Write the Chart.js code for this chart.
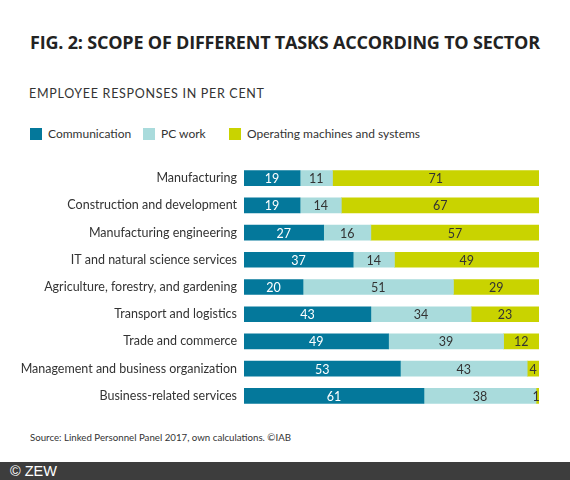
<!DOCTYPE html>
<html>
<head>
<meta charset="utf-8">
<script src="https://cdn.jsdelivr.net/npm/chart.js@4/dist/chart.umd.min.js"></script>
<style>
  html, body { margin:0; padding:0; background:#fff; }
  body { width:570px; height:480px; position:relative; overflow:hidden; font-family:Lato, sans-serif; color:#333; }
  .title { position:absolute; left:30px; top:30px; font-size:18px; font-weight:700; color:#222; white-space:nowrap; letter-spacing:-0.2px; font-family:"Open Sans", sans-serif; }
  .sub { position:absolute; left:29px; top:86px; font-size:12.5px; letter-spacing:0.7px; color:#333; white-space:nowrap; }
  .legend { position:absolute; left:30px; top:126px; font-size:12px; color:#333; white-space:nowrap; }
  .legend span.it { position:absolute; top:0; display:inline-flex; align-items:center; }
  .legend i { display:inline-block; width:12px; height:12px; margin-right:6px; }
  .src { position:absolute; left:30px; top:431px; font-size:9.7px; color:#333; white-space:nowrap; }
  .foot { position:absolute; left:0; top:462px; width:570px; height:18px; background:#3d3d3d; color:#fff; font-size:14.5px; line-height:18px; font-family:"Liberation Sans", Arial, sans-serif; }
  .foot span { margin-left:10px; }
  #wrap { position:absolute; left:0; top:150px; width:570px; height:274px; }
</style>
</head>
<body>
<div class="title">FIG. 2: SCOPE OF DIFFERENT TASKS ACCORDING TO SECTOR</div>
<div class="sub">EMPLOYEE RESPONSES IN PER CENT</div>
<div class="legend" id="legend"></div>
<div id="wrap"><canvas id="chart" width="570" height="274"></canvas></div>
<div class="src">Source: Linked Personnel Panel 2017, own calculations. ©IAB</div>
<div class="foot"><span>© ZEW</span></div>
<script>
'use strict';

const sectors = [
  'Manufacturing',
  'Construction and development',
  'Manufacturing engineering',
  'IT and natural science services',
  'Agriculture, forestry, and gardening',
  'Transport and logistics',
  'Trade and commerce',
  'Management and business organization',
  'Business-related services'
];
const communication = [19, 19, 27, 37, 20, 43, 49, 53, 61];
const pcWork        = [11, 14, 16, 14, 51, 34, 39, 43, 38];
const machines      = [71, 67, 57, 49, 29, 23, 12, 4, 1];

const seriesNames  = ['Communication', 'PC work', 'Operating machines and systems'];
const seriesColors = ['#04789b', '#a9dbdc', '#c9d300'];
const labelColors  = ['#ffffff', '#333333', '#333333'];
const legendX      = [0, 113, 199];

// legend
document.getElementById('legend').innerHTML = seriesNames.map((n, i) =>
  `<span class="it" style="left:${legendX[i]}px"><i style="background:${seriesColors[i]}"></i>${n}</span>`).join('');

// Zahlen in die Balken schreiben
const valueLabels = {
  id: 'valueLabels',
  afterDatasetsDraw(chart) {
    const ctx = chart.ctx;
    const area = chart.chartArea;
    ctx.save();
    ctx.font = '12.5px Lato, sans-serif';
    ctx.textAlign = 'center';
    ctx.textBaseline = 'middle';
    chart.data.datasets.forEach((ds, di) => {
      const meta = chart.getDatasetMeta(di);
      meta.data.forEach((bar, i) => {
        const right = Math.min(bar.x, area.right);
        const left = Math.min(bar.base, area.right);
        let cx = (left + right) / 2;
        if (ds.data[i] < 3) cx = right - 3;
        ctx.fillStyle = labelColors[di];
        ctx.fillText(ds.data[i], cx, bar.y + 1);
      });
    });
    ctx.restore();
  }
};

const ctx = document.getElementById('chart').getContext('2d');
new Chart(ctx, {
  type: 'bar',
  data: {
    labels: sectors,
    datasets: [communication, pcWork, machines].map((d, i) => ({
      label: seriesNames[i],
      data: d,
      backgroundColor: seriesColors[i],
      borderWidth: 0,
      barThickness: 15
    }))
  },
  options: {
    indexAxis: 'y',
    responsive: false,
    animation: false,
    layout: { padding: { left: 0, right: 31, top: 0, bottom: 0 } },
    scales: {
      x: { stacked: true, min: 0, max: 100, display: false },
      y: {
        stacked: true,
        grid: { display: false, drawTicks: false },
        border: { display: false },
        ticks: { color: '#333', padding: 7, font: { family: 'Lato, sans-serif', size: 12.5 } },
        afterFit: s => { s.width = 244; }
      }
    },
    plugins: { legend: { display: false }, tooltip: { enabled: false } }
  },
  plugins: [valueLabels]
});
</script>
</body>
</html>
